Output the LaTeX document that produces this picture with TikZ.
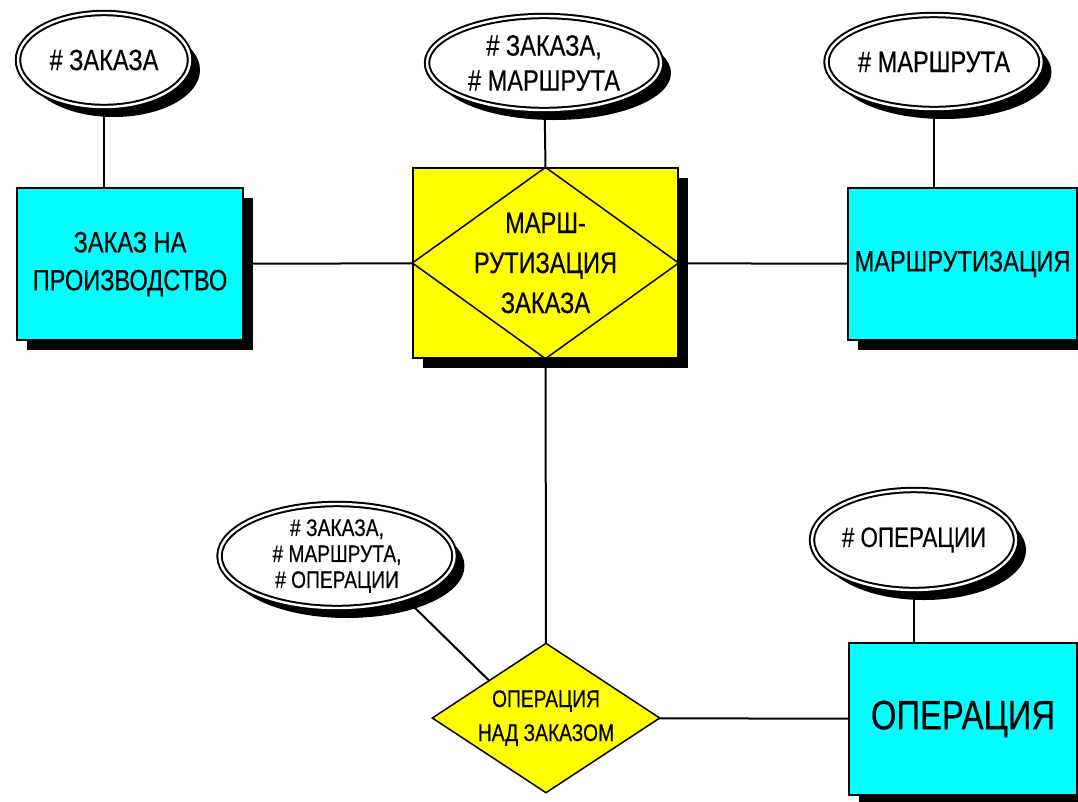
\documentclass[tikz,border=0pt]{standalone}
\usepackage{fontspec}
\setmainfont{Liberation Sans}[FakeStretch=0.8,FakeBold=0.4]
\usetikzlibrary{shapes.geometric,shadows,backgrounds}
\definecolor{entcyan}{RGB}{0,255,255}
\definecolor{relyellow}{RGB}{255,255,0}
\begin{document}
\begin{tikzpicture}[x=1pt,y=-1pt,
  attr/.style={ellipse, draw=black, line width=2pt, double=white, double distance=2.4pt,
    fill=white, inner sep=0pt, align=center,
    drop shadow={fill=black, opacity=1, shadow xshift=10pt, shadow yshift=-10pt}},
  ent/.style={rectangle, draw=black, line width=1.3pt, fill=entcyan, inner sep=0pt, align=center,
    drop shadow={fill=black, opacity=1, shadow xshift=10pt, shadow yshift=-10pt}},
  relbox/.style={rectangle, draw=black, line width=1.3pt, fill=relyellow, inner sep=0pt, align=center,
    drop shadow={fill=black, opacity=1, shadow xshift=10pt, shadow yshift=-10pt}},
  reldia/.style={diamond, draw=black, line width=1.5pt, fill=relyellow, inner sep=0pt, align=center, aspect=1.52},
  conn/.style={draw=black, line width=2pt},
  bigtxt/.style={font=\fontsize{29.5}{38}\selectfont},
  midtxt/.style={font=\fontsize{24}{26}\selectfont},
]
\useasboundingbox (0,0) rectangle (1078,801);

% attributes
\node[attr, minimum width=172pt, minimum height=94pt, font=\fontsize{29.5}{35}\selectfont] (e1) at (104,60) {\# ЗАКАЗА};
\node[attr, minimum width=234pt, minimum height=94pt, font=\fontsize{29.5}{35}\selectfont] (e2) at (544,63) {\# ЗАКАЗА,\\\# МАРШРУТА};
\node[attr, minimum width=182pt, minimum height=94pt, font=\fontsize{29.5}{35}\selectfont] (e3) at (934,62) {\# МАРШРУТА};
\node[attr, midtxt, minimum width=235pt, minimum height=100pt] (e4) at (337,556) {\# ЗАКАЗА,\\\# МАРШРУТА,\\\# ОПЕРАЦИИ};
\node[attr, minimum width=172pt, minimum height=100pt, font=\fontsize{28}{34}\selectfont] (e5) at (914,540) {\# ОПЕРАЦИИ};

% entities
\node[ent, bigtxt, minimum width=226pt, minimum height=152pt] (b1) at (130,264) {ЗАКАЗ НА\\ПРОИЗВОДСТВО};
\node[ent, bigtxt, minimum width=229pt, minimum height=152pt] (b3) at (962.5,264) {МАРШРУТИЗАЦИЯ};
\node[ent, minimum width=228pt, minimum height=152pt, font=\fontsize{41}{44}\selectfont] (b5) at (963,719) {ОПЕРАЦИЯ};

% central relationship box with inscribed diamond
\node[relbox, minimum width=265pt, minimum height=190pt, font=\fontsize{29.5}{40}\selectfont] (c) at (545.5,263) {МАРШ-\\РУТИЗАЦИЯ\\ЗАКАЗА};
\draw[line width=1.5pt] (c.north) -- (c.east) -- (c.south) -- (c.west) -- cycle;

% lower relationship
\node[reldia, minimum width=228pt, minimum height=150pt, font=\fontsize{24}{34}\selectfont] (d2) at (546,718) {ОПЕРАЦИЯ\\НАД ЗАКАЗОМ};

\begin{pgfonlayer}{background}
\draw[conn] (e1.center) -- (e1.center |- b1.north);
\draw[conn] (e2.center) -- (c.north);
\draw[conn] (e3.center) -- (e3.center |- b3.north);
\draw[conn] (e5.center) -- (e5.center |- b5.north);
\draw[conn] (b1.center) -- (c.center);
\draw[conn] (c.center) -- (b3.center);
\draw[conn] (c.center) -- (d2.center);
\draw[conn] (d2.center) -- (b5.center);
\draw[conn] (e4.-32) -- (d2.north west);
\end{pgfonlayer}
\end{tikzpicture}
\end{document}
